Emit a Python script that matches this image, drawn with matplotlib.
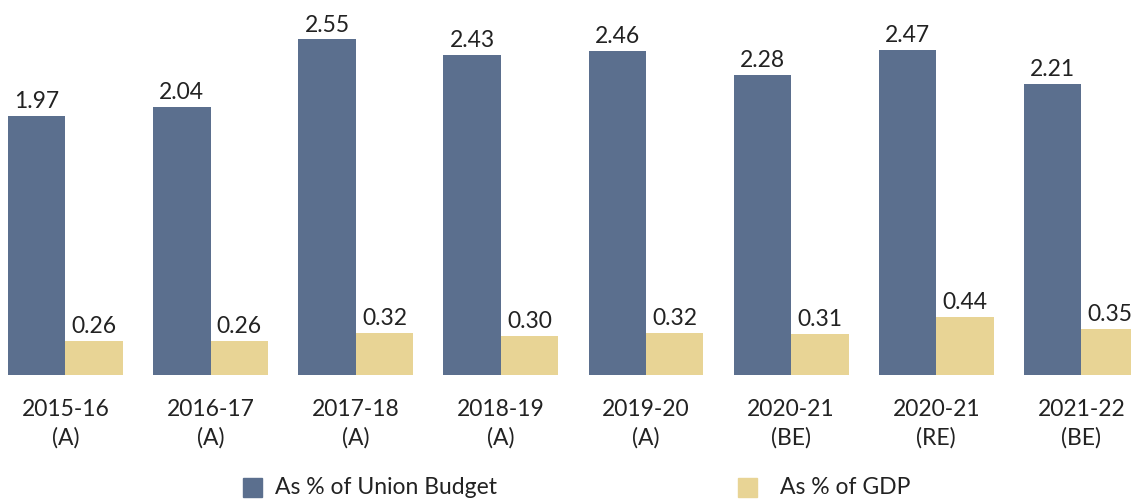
import numpy as np
import matplotlib.pyplot as plt
from matplotlib.patches import Rectangle

plt.rcParams['font.family'] = ['Lato', 'DejaVu Sans']

# 数据
years = ['2015-16\n(A)', '2016-17\n(A)', '2017-18\n(A)', '2018-19\n(A)',
         '2019-20\n(A)', '2020-21\n(BE)', '2020-21\n(RE)', '2021-22\n(BE)']
union_budget = [1.97, 2.04, 2.55, 2.43, 2.46, 2.28, 2.47, 2.21]
gdp = [0.26, 0.26, 0.32, 0.30, 0.32, 0.31, 0.44, 0.35]

c_blue = '#5b6f8e'
c_yellow = '#e8d495'
txt = '#222222'
fs = 16.5

fig = plt.figure(figsize=(11.31, 4.99), dpi=100)
ax = fig.add_axes([0, 1 - 375 / 499, 1, 375 / 499])

x = np.arange(len(years))
w = 0.396
b1 = ax.bar(x - w / 2, union_budget, w, color=c_blue)
b2 = ax.bar(x + w / 2, gdp, w, color=c_yellow)

# 数值标签
for bars, vals in ((b1, union_budget), (b2, gdp)):
    for r, v in zip(bars, vals):
        ax.text(r.get_x() + r.get_width() / 2, v + 0.03, f'{v:.2f}',
                ha='center', va='bottom', fontsize=fs, color=txt)

ax.set_xlim(-0.451, 7.342)
ax.set_ylim(0, 2.85)
ax.set_xticks(x)
ax.set_xticklabels(years, fontsize=fs, color=txt, linespacing=1.45)
ax.tick_params(axis='x', length=0, pad=17)
ax.set_yticks([])
for s in ax.spines.values():
    s.set_visible(False)

# 图例
fig.add_artist(Rectangle((243 / 1131, 2 / 499), 19 / 1131, 19 / 499,
                         transform=fig.transFigure, color=c_blue))
fig.text(275 / 1131, 11 / 499, 'As % of Union Budget', fontsize=fs,
         color=txt, va='center')
fig.add_artist(Rectangle((738 / 1131, 2 / 499), 19 / 1131, 19 / 499,
                         transform=fig.transFigure, color=c_yellow))
fig.text(780 / 1131, 11 / 499, 'As % of GDP', fontsize=fs,
         color=txt, va='center')

fig.savefig('out.png', dpi=100)
